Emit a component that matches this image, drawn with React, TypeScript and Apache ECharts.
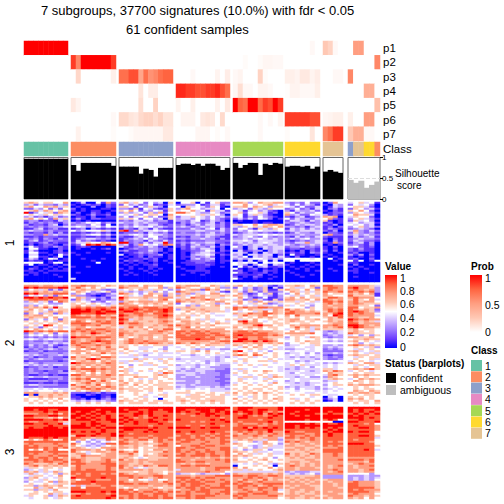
import React, { useEffect, useRef } from "react";
import * as echarts from "echarts";

const FONT = "Liberation Sans";
const classColors = ["#66C2A5", "#FC8D62", "#8DA0CB", "#E78AC3", "#A6D854", "#FFD92F", "#E5C494"];
const groupClasses = [[1,1,1,1,1,1,1,1,1],[2,2,2,2,2,2,2,2,2],[3,3,3,3,3,3,3,3,3,3,3],[4,4,4,4,4,4,4,4,4,4,4],[5,5,5,5,5,5,5,5,5,5],[6,6,6,6,6,6,6],[7,7,7,7],[3,7,7,6,6,2]];
const pLabels = ["p1","p2","p3","p4","p5","p6","p7"];

const p1 = [[1,1,1,1,1,1,1,1,1],[0,0,0,0,0,0,0,0,0],[0,0,0,0,0,0,0,0,0,0,0],[0,0,0,0,0,0,0,0,0,0,0],[0,0,0,0,0,0,0,0,0,0],[0,0,0,0,0,.03,0],[.25,.2,.03,0],[0,.5,.5,0,0,0]];
const p2 = [[0,0,0,0,0,0,0,0,0],[.85,.6,1,1,1,1,1,1,.85],[0,0,0,0,0,0,0,0,0,0,0],[0,0,0,0,0,0,0,0,0,0,0],[0,0,.02,0,0,.02,.04,.04,.03,.03],[0,0,0,0,0,0,0],[0,0,0,0],[0,0,0,0,0,.6]];
const p3 = [[0,0,0,0,0,0,0,0,0],[0,.18,0,0,0,0,0,0,.07],[.7,.7,.8,.8,.45,.7,.55,.6,.7,.75,.75],[0,0,0,.03,0,0,0,0,.05,0,.08],[.03,.05,0,0,0,.2,.02,0,0,0],[.07,.07,.05,.1,.1,.05,.08],[0,0,.03,.03],[.6,0,0,0,0,0]];
const p4 = [[0,0,0,0,0,0,0,0,0],[0,0,0,0,0,0,0,0,0],[0,0,0,0,.12,0,.08,.08,0,0,0],[.9,.9,.85,.85,.8,.8,.85,.85,.9,.8,.7],[.04,.15,.03,.03,0,.05,.05,.03,0,0],[.01,.05,.05,.03,.03,.03,.07],[0,0,0,0],[0,0,0,.4,.4,0]];
const p5 = [[0,0,0,0,0,0,0,0,0],[.1,.05,0,0,0,0,0,0,0],[0,0,0,0,.15,0,0,.2,0,0,0],[.05,0,0,.07,0,0,0,0,.06,0,.1],[1,.75,.7,1,1,.72,.85,.8,1,.85],[0,0,0,0,0,0,0],[0,0,0,0],[0,0,0,0,0,.3]];
const p6 = [[0,0,0,0,0,0,0,0,0],[0,0,0,0,0,0,0,0,.03],[.17,.17,.12,.1,.17,.2,.2,.15,.2,.12,.12],[0,.05,.05,.05,0,.1,.12,.1,0,.17,0],[0,0,0,0,0,.03,0,.03,0,.05],[.85,.85,.85,.85,.85,.8,.8],[.04,.05,.07,.07],[.07,0,0,.5,.5,0]];
const p7 = [[0,0,0,0,0,0,0,0,0],[0,.06,0,0,0,0,0,0,.02],[0,0,.02,.04,.04,.04,.04,.04,.04,.1,.1],[0,0,0,0,.04,.04,.04,0,.02,0,.03],[0,0,0,0,0,.03,0,0,0,0],[.02,0,0,0,0,.12,0],[.6,.7,.85,.85],[.25,.4,.4,.03,.03,0]];

const silhouette = [
  [.97,.97,.97,.97,.97,.97,.97,.97,.97],
  [.82,.68,.87,.87,.87,.87,.87,.87,.8],
  [.78,.78,.78,.78,.61,.73,.7,.54,.75,.75,.75],
  [.82,.85,.85,.82,.85,.8,.85,.85,.8,.7,.75],
  [.87,.75,.82,.87,.87,.58,.85,.82,.87,.85],
  [.78,.8,.8,.78,.8,.73,.78],
  [.66,.7,.66,.63],
  [.46,.39,.44,.27,.34,.42],
];

// one digit per cell on a ten step scale of valueSteps
const valueSteps = [0,.1,.2,.3,.42,.5,.62,.75,.88,1];
const block1 = [
"676566557 014005172 67465253406 05560515622 7763576677 3232522 0275 456451",
"342433243 101212021 25342351214 23335124413 5575456745 4252431 1043 254530",
"675576746 010030021 66515364305 50645426510 6675765366 5425224 0143 566420",
"224352425 201000110 33261542126 36755344505 3452643655 2352314 0231 265341",
"567476567 101011001 65752435416 45574516441 5414534210 3143342 1021 657520",
"913546276 020021010 36345263725 88654335423 5625564120 6524335 0122 365431",
"565465645 210131120 54563566507 55554646530 6514643100 7342254 3121 576640",
"342313423 011020011 35245635226 24465435342 4513253210 2134123 7670 465520",
"675652746 131022111 64652553406 34435435321 2424254201 5243324 5721 356431",
"233122143 010100000 23244342331 33245124320 0100100000 2443143 6101 264530",
"132323213 323545232 43343433221 13243234131 1000101100 3234323 1201 453441",
"312213402 233254150 23243244212 23134244231 6655756776 1243443 2130 545340",
"232323334 454345354 34354453432 34323434231 4365647657 3323134 1202 356342",
"113412311 123032121 13214314211 22243245142 2553164365 1434243 1321 234320",
"343323222 534555643 89263445453 33334433342 3435454445 3434444 2130 473242",
"212213131 112123120 12223143231 23223234232 1234323212 1243324 0221 263231",
"332273433 223455342 33454354432 33334344331 4344455454 3334333 6722 343432",
"112122211 112112120 21134255232 12133243211 2345325323 2142324 2111 142341",
"323132132 123443232 12343535321 33233433131 3343454343 3434533 1021 234332",
"134123222 142321210 13233143242 12122233222 4454244443 2123234 2031 243221",
"121231211 244655765 99232424492 23243344221 3434345433 3244734 1172 134130",
"020122102 125989798 34137545387 13134233032 2343443443 4323343 0101 232130",
"352121321 012100000 42123243120 12143324120 5303434344 2334232 1020 452120",
"055110021 010010120 01232233201 02132443020 3303404344 1221221 1010 213110",
"142000120 000000000 23112243201 01122354021 0412330343 0102021 2020 212110",
"155110121 100100010 01123232010 01023443110 4430304343 1212032 1001 120010",
"044001052 010000000 40112122301 01034454021 3404434402 0511001 0100 313020",
"055110150 000000000 01012021101 01132342010 4350434304 1020010 1010 101010",
"143015401 001000100 10111212001 01034234010 3434554343 5555545 0501 120020",
"021101011 000010000 02121012010 00122232011 0304035040 5505555 0010 515015",
"555501550 000005000 10101101001 01112211010 5454505455 0100010 0000 110000",
"150110102 000000000 01010112000 00111121000 5430354043 1000101 0001 020010",
"001001010 100100000 00100011000 10001110010 0513034112 0101010 0000 101000",
"021010101 000000000 10101010100 01001100000 5101201010 0010100 0100 010100",
"110101111 000000000 01000101000 00111110000 1201102110 1000101 0010 110000",
"011010000 010000000 00100010000 00010010000 5210112010 0100000 0000 010010",
"101000100 000000000 01010001000 01000100000 1111120100 0010010 0000 000000",
"000000010 000000000 00000000000 00000000000 2010210010 0001000 0000 010000",
"000000000 400000000 00000000000 00000000000 5100100100 0000000 0000 000000",
"000000000 000000000 00000000000 00000000000 0000000000 0000000 0000 000000",
];
const block2 = [
"777677667 778776576 76775766755 76777557646 6756564213 6676576 8877 777764",
"989888899 686575655 87666755736 87655675633 2534236041 5644562 7887 897763",
"356462426 767666323 45657646653 35677286756 6536236116 7665757 7877 787673",
"767676767 576534562 64343463535 87664456421 6426426223 5764646 8778 878783",
"989777888 365232124 87653576636 36736457754 5731253614 3575656 7566 767571",
"354536265 733210133 56454775726 76456766676 7642354313 5464564 7655 866661",
"998989889 576332314 97666766777 46587756645 5753125113 6757566 6887 787775",
"788887877 274351323 86556645785 76766787566 4623742162 7766757 8767 686574",
"367462587 465423254 36767776766 87676656775 6756375646 6646564 8878 786775",
"445453335 656565434 87656767657 25546566347 5754657234 5565445 7867 787666",
"363565455 675646546 67775656676 55363656755 4545464453 6456535 7677 776652",
"767686965 787878878 87887888778 66766666656 8787788777 5555365 7767 885667",
"475653566 998988987 98898788898 36676766654 8657664476 8676565 7878 876762",
"765647676 999989899 89987887898 55756676664 5455468576 7877676 6878 898763",
"265366274 998889988 87788768887 56565654555 7668778876 8877778 7689 878775",
"767756555 876768676 98778777898 66646565445 4686678565 7586666 7598 877774",
"676675756 888878878 87767667887 65755565555 5656576765 6565655 6768 776675",
"264535626 577677767 98467666776 76656464556 6465755656 6775667 5766 987877",
"656565476 787568787 87676676787 57766654654 5896754565 6766565 6767 876764",
"564656656 888877887 97887666776 66767565766 5687775566 6556655 5677 886777",
"656598565 778778667 66777667678 87766667555 6666897756 5767777 7787 998767",
"364265464 677566676 46867576667 67857565666 7567675665 5686746 7678 898776",
"657656565 787878877 76666757688 57776767775 6656565565 4575647 6666 675665",
"987878788 878787787 77676677876 88788787777 7887877766 5756645 3234 676565",
"263456254 767798767 87766677767 87878878876 8888788776 7777785 3434 876665",
"354535343 767676677 86767776675 88788887887 8988888787 5666555 2343 453536",
"232323232 988878887 76567675677 88888878778 8787787666 3565476 3233 776675",
"454345443 776778767 56877676675 78889888767 7997788765 4565556 5454 566766",
"232232332 876789887 67877877776 77777776788 9988979875 5565766 4343 675654",
"233343434 878876787 67878788767 87687667767 6676776767 3556566 5555 563545",
"242324212 787778776 66565656664 55656576664 7656575565 3445546 3343 787676",
"132323133 678767686 76554445535 45565654554 5475765454 4455445 3434 565463",
"323234323 575787677 57554455435 54543434433 4556564564 3344545 2323 546565",
"122312222 777657776 65645656565 66567575545 8954545355 5455445 2222 674546",
"333233323 675766867 46554445444 45565565654 6565756565 3445353 3343 565464",
"434323343 566677556 55464355455 54434545444 7875875565 4545454 2122 676656",
"231223221 867656887 44445444444 45544454343 4556454565 4343434 3232 546566",
"323433223 766898676 55574654656 34444444345 5465555654 4454443 3223 565564",
"122222212 567675767 44646555465 44545434345 6565566465 5534345 5555 456545",
"343233333 987776787 64555465565 55454535444 4545555545 4545454 3434 765774",
"434343443 676767677 55356446556 34443445433 5656546555 4656444 4545 546566",
"122323122 767576767 75655555445 44543543333 5555455454 4434535 4545 565456",
"232333222 878887877 56455565565 43434444332 4645555554 3434444 6645 676786",
"232212231 676786767 76456545656 34334433222 5465657654 4445434 7687 456545",
"233232233 567575767 56545556487 44443433322 6565556555 4354444 5766 565665",
"211221211 887676787 76665556765 33443333323 4554565465 4445445 4786 676766",
"343343332 676777776 65576656565 34334333223 5466456476 4434533 3765 575655",
"211112232 787856767 65654546556 33333333322 5645454655 5454444 4676 457676",
"233332322 676786865 75656565655 44334333223 5655556545 3454455 3445 576565",
"111211211 567867676 67566565666 33334333322 4565455475 4434344 4565 656565",
"344333322 866768576 76575656665 44343333323 6556565655 5444345 3566 767776",
"222322222 678676787 65656565666 34334443434 5565556556 3434443 4545 565655",
"445454544 767878767 76665665766 45445454443 6565665656 4535443 3454 565665",
"454555454 565677565 65666565655 55655554444 5656565565 5545554 4545 576576",
"777666767 222123122 65565545545 66656656556 7566757656 4555445 4555 767767",
"070667676 100210110 55565655665 55466566564 6565656565 5656566 5445 565665",
"566767666 110000120 65556454565 65666656665 5454656556 5555545 0450 656565",
"655656575 212020231 56565655055 66566566665 7565656576 5645655 1340 767565",
"656565656 434343432 76656656665 67656667665 5656565656 5565656 0140 656657",
"565656565 565656565 65666566566 56565656565 6565656565 5656565 5555 565656",
];
const block3 = [
"999999999 999999999 99999999999 99999999999 8999888889 9999999 9999 999999",
"998998899 999998999 98998899899 99889998998 8998899889 9999899 9999 989889",
"888898988 989989989 99889898889 98988998989 9899898787 9989999 9899 989898",
"777887868 899898988 88899898888 87889899889 8789897989 9899998 8988 898989",
"998889988 998989898 98898798898 88878898988 8898787898 9989899 9999 989888",
"887776757 989898898 89878789888 88888888878 8998888988 9999999 9999 999898",
"999988989 899989899 98988898898 98888889898 8888878888 9999899 8985 889888",
"877888876 888898889 89898899887 88878788889 8788888978 5555555 5500 998889",
"998898894 889899888 98898888988 88888889888 7877787878 9999898 9889 888785",
"888889888 999898988 78888878888 88788788878 7888877888 9989999 9999 898887",
"898899989 999989899 99999989889 99988989988 8897989898 9989898 9898 889987",
"999999999 888888988 89988898888 88888888888 8889888988 8888888 8989 888887",
"999999999 989898988 98888989888 98898889887 7878787977 9877888 9899 989985",
"999999999 888889889 88788888888 88788878788 7687787787 8888778 8988 888885",
"999999999 699898889 98888878888 78878787887 8777876877 7877878 8988 889986",
"988898988 887767787 87787787887 88878878788 7776767774 8878787 8888 888884",
"575687568 867534487 78778867878 87887877787 6767664773 7767787 8888 878885",
"888888888 535353545 87676657877 78877787788 4556347554 8787677 8787 888875",
"787777877 865434388 88776766787 87777877787 7655547653 6767767 8888 999885",
"878777787 754343456 76676657887 57788788777 5654345644 7766776 8787 888886",
"888787878 676545777 77675666777 88778877788 4565346444 6677667 7778 888885",
"857587855 877767578 65565657767 87787787788 6534665355 7767676 8888 888984",
"888878888 865467767 87685666687 87878788778 7665644544 6666766 8888 888885",
"878777877 677455677 77865656777 78778878778 5756465644 8676687 7787 888885",
"887778788 668777677 66765766787 88788878878 7676555655 7676767 7787 888885",
"687887867 767666777 67654566667 67776767767 6545656535 6767667 7777 777775",
"888787887 887666786 86767766777 87767777878 7556567556 6666776 7778 888785",
"778788778 787677787 77767677777 88778877778 6665655655 6776677 7777 777685",
"876667687 888777888 77667667777 76767767777 4545465436 7676767 7777 678775",
"678676767 687777788 87676876887 78878887777 0555656505 7876767 7678 767785",
"466566565 787777787 86745466667 77777677888 7575555756 7767776 7677 767775",
"345465545 787887787 77777676667 47777677877 6646565567 7767777 7787 776785",
"767464765 888888888 66656676656 77777787775 4444444446 3433344 7678 776775",
"474545636 878788787 87676677657 34454344453 7667776767 4343453 7777 555535",
"546654575 788788888 88877778877 77767777888 8878877887 6666667 3333 333433",
"367545465 988888988 77878767877 88878788777 7778787677 7676777 3333 343434",
"465465565 757887778 77575547557 78787877787 7687768676 6767676 6777 343435",
"354457376 788898888 87677677687 87888788778 7876787777 7676767 7677 787776",
"565565466 888878888 88878877778 78788877788 8788778888 7777677 7767 887776",
"663676675 474777887 67777767767 78788787787 7887867877 6767766 7767 887776",
"557467566 885888788 65676676566 87887878888 7877788787 7677776 7776 888886",
"663664755 888888888 87857778767 67787887778 7787687784 6776776 7777 878777",
"556565665 999888989 88787887878 87878887788 6778778775 6766767 7677 888876",
"566557464 778788878 88878778887 77877787878 7887888777 6767667 7776 787775",
"465563476 898888889 77878878787 88878888777 8787777886 7776776 6777 877676",
"545565465 888888898 87878888788 77878877777 7877777775 6766767 7677 767575",
];

const GROUP_LEFT = [24, 71, 119, 176, 233, 285, 323, 348];
const GROUP_WIDTH = [44, 45, 54, 54, 50, 35, 20, 32];
const chunks = (rows: string[], g: number) => rows.map((r) => r.split(" ")[g].split("").map((c) => valueSteps[+c]));
const PANELS = [
  { top: 41, height: 100 },
  { top: 142, height: 14 },
  { top: 157.5, height: 41.5 },
  { top: 202, height: 80 },
  { top: 285, height: 119 },
  { top: 407, height: 92 },
];
const blue = ["#0000FF", "#6A3BFF", "#A07EFF", "#D1BBFF", "#FFFFFF", "#FFC8B4", "#FF9E81", "#FF6440", "#FF0000"];
const reds = ["#FFFFFF", "#FFC8B4", "#FF9E81", "#FF6440", "#FF0000"];

function buildOption() {
  const grid: any[] = [], xAxis: any[] = [], yAxis: any[] = [], series: any[] = [];
  const valueIdx: number[] = [], probIdx: number[] = [], classIdx: number[] = [];
  const hidden = { show: false };
  const addPanel = (panel: number, g: number, border = false) => {
    grid.push({
      left: GROUP_LEFT[g], width: GROUP_WIDTH[g], top: PANELS[panel].top, height: PANELS[panel].height,
      show: border, borderColor: "#666", borderWidth: 1, backgroundColor: "#fff",
    });
    return grid.length - 1;
  };
  const heat = (panel: number, g: number, rows: number[][], list: number[], yCats: string[] | null) => {
    const i = addPanel(panel, g);
    const cols = rows[0].length;
    xAxis.push({ type: "category", gridIndex: i, data: rows[0].map((_, k) => k), ...hidden });
    yAxis.push(yCats
      ? { type: "category", gridIndex: i, data: yCats, inverse: true, position: "right", axisLine: hidden, axisTick: hidden,
          axisLabel: { fontSize: 11.5, interval: 0, fontFamily: FONT, color: "#000", margin: 3 } }
      : { type: "category", gridIndex: i, data: rows.map((_, k) => k), inverse: true, ...hidden });
    const data: any[] = [];
    rows.forEach((r, y) => { for (let x = 0; x < cols; x++) data.push([x, y, r[x]]); });
    list.push(series.length);
    series.push({ type: "heatmap", xAxisIndex: i, yAxisIndex: i, data, silent: true, progressive: 0, itemStyle: { borderWidth: 0 } });
  };
  const pSets = [p1, p2, p3, p4, p5, p6, p7];
  GROUP_LEFT.forEach((_, g) => {
    heat(0, g, pSets.map((p) => p[g]), probIdx, g === 7 ? pLabels : null);
    heat(1, g, [groupClasses[g]], classIdx, g === 7 ? ["Class"] : null);
    const i = addPanel(2, g, true);
    const barColor = g === 7 ? "#BEBEBE" : "#000";
    xAxis.push({ type: "category", gridIndex: i, data: silhouette[g].map((_, k) => k), ...hidden });
    yAxis.push(g === 7
      ? { type: "value", gridIndex: i, min: 0, max: 1, interval: 0.5, position: "right", splitLine: hidden,
          axisLine: hidden, axisTick: { show: true, length: 3, lineStyle: { color: "#000" } },
          axisLabel: { fontSize: 8, fontFamily: FONT, color: "#000", margin: 2, lineHeight: 8, padding: [2, 0, 0, 0], formatter: (v: number) => String(v) } }
      : { type: "value", gridIndex: i, min: 0, max: 1, ...hidden });
    series.push({
      type: "bar", xAxisIndex: i, yAxisIndex: i, data: silhouette[g], barWidth: "112%", barGap: "-100%", silent: true,
      itemStyle: { color: barColor },
      ...(g === 7 ? { markLine: { silent: true, symbol: "none", label: hidden, lineStyle: { color: "#DDD", type: "dashed", width: 1 }, data: [{ yAxis: 0.5 }] } } : {}),
    });
    [block1, block2, block3].forEach((b, k) => heat(3 + k, g, chunks(b, g), valueIdx, null));
  });

  const txt = (text: string, x: number, y: number, size = 10.5, weight = "normal") => ({
    type: "text", x, y, silent: true,
    style: { text, fontSize: size, fontWeight: weight, fontFamily: FONT, fill: "#000", verticalAlign: "middle" },
  });
  const swatch = (x: number, y: number, w: number, h: number, fill: any) => ({ type: "rect", x, y, shape: { width: w, height: h }, silent: true, style: { fill } });
  const gradient = (stops: string[]) => new echarts.graphic.LinearGradient(0, 0, 0, 1, stops.slice().reverse().map((c, i, a) => ({ offset: i / (a.length - 1), color: c })));
  const graphic: any[] = [
    swatch(385, 275, 12, 73, gradient(blue)),
    swatch(470, 275, 12, 57, gradient(reds)),
    txt("Value", 385, 266, 10, "bold"), txt("Prob", 471, 266, 10, "bold"), txt("Class", 471, 350, 10, "bold"),
    txt("Status (barplots)", 385, 363, 10, "bold"),
    swatch(386, 373, 10, 10, "#000"), swatch(386, 385, 10, 10, "#BEBEBE"),
    txt("confident", 400, 378), txt("ambiguous", 400, 390),
    txt("Silhouette", 395, 173, 10), txt("score", 397, 185, 10),
  ];
  [["1",278],["0.8",291],["0.6",304],["0.4",318],["0.2",332],["0",347]].forEach(([t, y]) => graphic.push(txt(t as string, 400, y as number, 10.5)));
  [["1",278],["0.5",305],["0",332]].forEach(([t, y]) => graphic.push(txt(t as string, 485, y as number, 10.5)));
  classColors.forEach((c, i) => {
    graphic.push(swatch(471, 360 + i * 11.3, 11, 11, c));
    graphic.push(txt(String(i + 1), 485, 365.5 + i * 11.3, 10.5));
  });
  [["1", 243], ["2", 343], ["3", 452]].forEach(([t, y]) => graphic.push({
    type: "text", x: 10, y: y as number, rotation: Math.PI / 2, silent: true,
    style: { text: t, fontSize: 12, fontFamily: FONT, fill: "#000", align: "center", verticalAlign: "middle" },
  }));

  return {
    animation: false,
    backgroundColor: "#fff",
    title: [
      { text: "7 subgroups, 37700 signatures (10.0%) with fdr < 0.05", left: 36, top: -1, textStyle: { fontSize: 13, fontWeight: "normal", fontFamily: FONT, color: "#000" } },
      { text: "61 confident samples", left: 121, top: 18, textStyle: { fontSize: 13, fontWeight: "normal", fontFamily: FONT, color: "#000" } },
    ],
    grid, xAxis, yAxis, series, graphic,
    visualMap: [
      { type: "continuous", show: false, min: 0, max: 1, seriesIndex: valueIdx, inRange: { color: blue } },
      { type: "continuous", show: false, min: 0, max: 1, seriesIndex: probIdx, inRange: { color: reds } },
      { type: "piecewise", show: false, seriesIndex: classIdx, pieces: classColors.map((color, i) => ({ value: i + 1, color })) },
    ],
  };
}

export default function App() {
  const ref = useRef<HTMLDivElement>(null);
  useEffect(() => {
    const chart = echarts.init(ref.current!, undefined, { renderer: "svg" });
    chart.setOption(buildOption() as any);
    return () => chart.dispose();
  }, []);
  return <div ref={ref} style={{ position: "absolute", left: 0, top: 0, width: 504, height: 504 }} />;
}
